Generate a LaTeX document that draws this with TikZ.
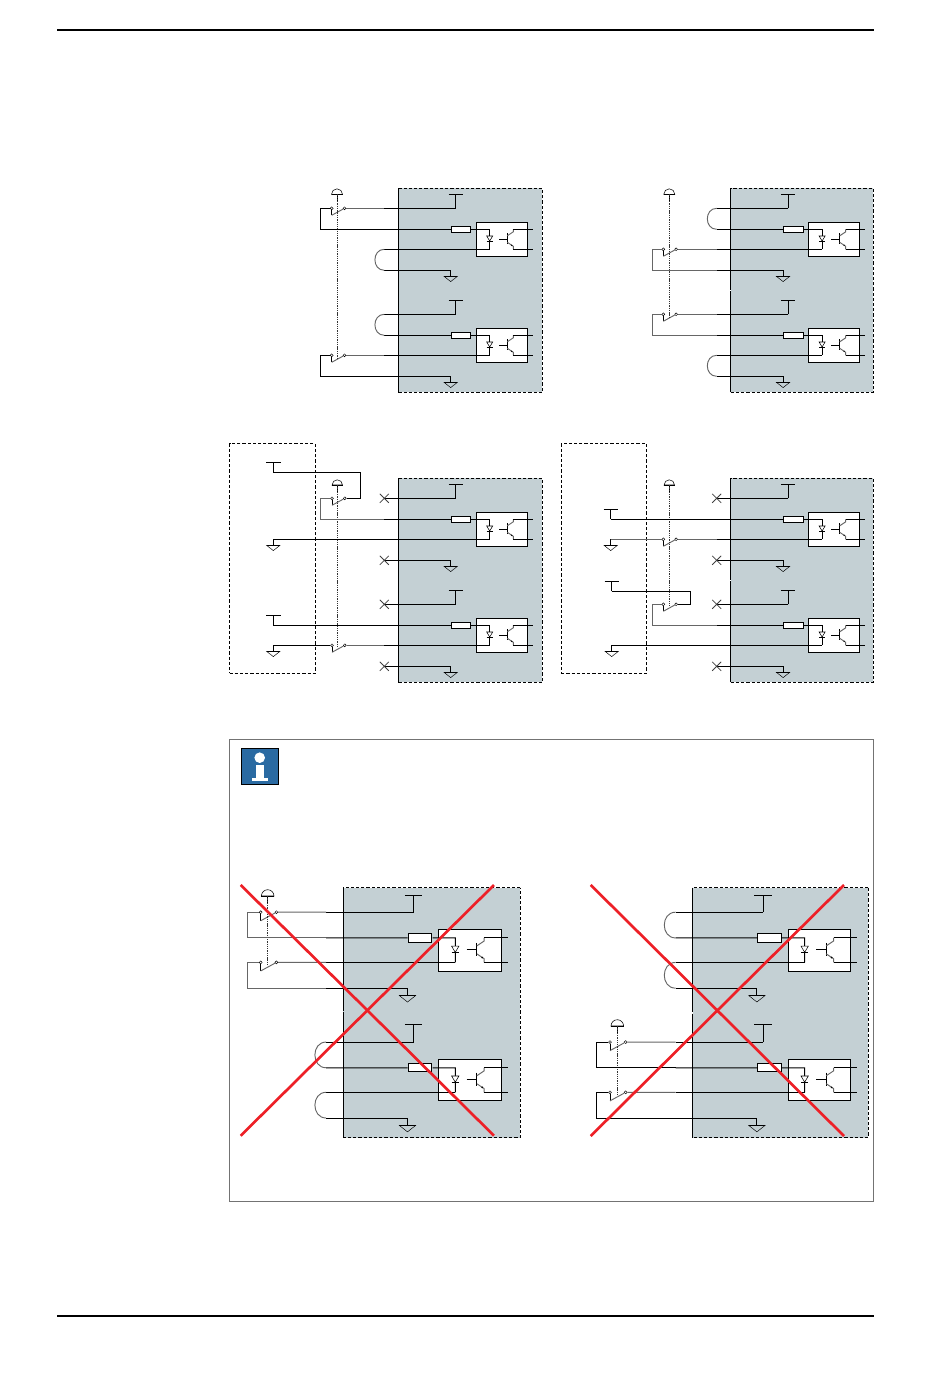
\documentclass[tikz,border=0pt]{standalone}
\usetikzlibrary{shapes.misc}
\definecolor{panelgray}{HTML}{C4D0D4}
\definecolor{noteblue}{HTML}{2A6AA2}
\definecolor{crossred}{HTML}{ED2027}
\tikzset{
    wire/.style={line width=0.7pt,black},
    stubwire/.style={line width=0.7pt,black!60},
    linkwire/.style={line width=0.55pt,black!80,dash pattern=on 1pt off 0.7pt},
    panelbox/.style={draw,line width=0.65pt,dash pattern=on 2.4pt off 1.5pt,fill=panelgray,inner sep=0pt,minimum height=153pt,transform shape},
    extbox/.style={draw,line width=0.55pt,dash pattern=on 2.4pt off 1.5pt,inner sep=0pt,minimum width=64.2pt,minimum height=172.2pt},
    optobox/.style={draw,line width=0.7pt,fill=white,inner sep=0pt,minimum width=38.25pt,minimum height=25.5pt,transform shape},
    resbox/.style={draw,line width=0.7pt,fill=white,inner sep=0pt,minimum width=14.5pt,minimum height=5pt,transform shape},
    swpin/.style={circle,draw,line width=0.35pt,fill=white,inner sep=0pt,minimum size=2.2pt},
    xpin/.style={cross out,draw,line width=0.55pt,black!75,inner sep=0pt,minimum size=6.2pt},
    redcross/.style={line width=2pt,crossred}
}
\newcommand{\gndsym}[3]{
    \coordinate (#1) at (#2,#3);
    \draw[wire] (#1) -- ++(0,6);
    \draw[line width=0.35pt] (#2-6.7,#3+6) -- ++(13.4,0) -- ++(-6.7,5.3) -- cycle;
    \draw[wire] (#2-6.7,#3+6) -- ++(13.4,0);
}
\newcommand{\vccsym}[4]{
    \coordinate (#1) at (#2,#3);
    \draw[wire] (#1) -- ++(0,-#4);
    \draw[wire] (#2-7.2,#3-#4) -- ++(14.4,0);
}
\newcommand{\iounit}[2]{
    \begin{scope}[shift={(0,#2)}]
        \vccsym{#1p}{57.4}{20}{14}
        \gndsym{#1g}{52.4}{82}
        \coordinate (#1ps) at (-14,20);
        \coordinate (#1rs) at (-14,41);
        \coordinate (#1cs) at (-14,61);
        \coordinate (#1gs) at (-14,82);
        \coordinate (#1d) at (91.4,41);
        \coordinate (#1c) at (91.4,61);
        \path (103.5,51) node[optobox] (#1box) {};
        \path (62.7,41) node[resbox] (#1res) {};
        \draw[wire] (#1ps) -- (#1p);
        \draw[wire] (#1rs) -- (#1res);
        \draw[wire] (#1res) -- (#1d) -- (#1c);
        \draw[wire] (#1cs) -- (#1c);
        \draw[wire] (#1gs) -- (#1g);
        \draw[line width=0.4pt,fill=white] (88.4,47.7) -- (94.4,47.7) -- (91.4,52.7) -- cycle;
        \draw[wire] (88.4,53) -- (94.4,53);
        \draw[wire] (100.7,50.7) -- (109,50.7);
        \draw[wire] (109,45) -- (109,56);
        \draw[stubwire] (109,47.5) -- (115,43.5) -- (115,41);
        \draw[stubwire] (109,54) -- (115,58) -- (115,61);
        \fill (113.4,57) circle (0.8);
        \draw[wire] (115,41) -- (134.4,41);
        \draw[wire] (115,61) -- (134.4,61);
    \end{scope}
}
\newcommand{\ioboard}[5]{
    \begin{scope}[shift={(#2,#3)},scale=#4]
        \path (#5/2,102) node[panelbox,minimum width=#5*0.75pt] (#1panel) {};
        \draw[wire] (0,0) -- (0,101) (0,103) -- (0,204);
        \iounit{#11}{0}
        \iounit{#12}{106}
    \end{scope}
}
\newcommand{\dswitch}[4]{
    \begin{scope}[shift={(#2,#3)},scale=#4]
        \path (0,0) node[swpin] (#1l) {};
        \path (12.8,0) node[swpin] (#1r) {};
        \coordinate (#1m) at (0,7);
        \draw[wire] (#1l) -- (#1m);
        \draw[stubwire] (#1m) -- (#1r);
    \end{scope}
}
\newcommand{\estop}[4]{
    \coordinate (#1) at (#2,#3);
    \draw[line width=0.4pt] (#2-#4,#3) arc[start angle=180,end angle=360,radius=#4] -- cycle;
    \draw[wire] (#2-#4,#3) -- (#2+#4,#3);
    \draw[wire] (#1) -- ++(0,8);
}
\newcommand{\loopwire}[3]{
    \draw[stubwire] (#1) .. controls +(-#3,0) and +(-#3,0) .. (#2);
}
\begin{document}
\begin{tikzpicture}[x=0.75pt,y=-0.75pt]
    \useasboundingbox (0,0) rectangle (950,1378);
    \draw[line width=1.1pt] (57,30) -- (873.5,30);
    \draw[line width=1.1pt] (57,1316) -- (873.5,1316);

    \ioboard{A}{398.3}{188.3}{1}{144}
    \estop{stopA}{337}{194.3}{5.5}
    \dswitch{sA1}{331.7}{208.3}{1}
    \dswitch{sA2}{331.7}{355.3}{1}
    \coordinate (endA) at (337,358);
    \draw[linkwire] (stopA) -- (endA);
    \draw[stubwire] (sA1r) -- (A1ps);
    \draw[wire] (sA1l) -- ++(-11.4,0) |- (A1rs);
    \draw[stubwire] (sA2r) -- (A2cs);
    \draw[wire] (sA2l) -- ++(-11.4,0) |- (A2gs);
    \loopwire{A1cs}{A1gs}{12.5}
    \loopwire{A2ps}{A2rs}{12.5}

    \ioboard{B}{730.7}{188.3}{1}{142.7}
    \estop{stopB}{669.3}{194.3}{5.5}
    \dswitch{sB1}{663.3}{249.3}{1}
    \dswitch{sB2}{663.3}{314.3}{1}
    \coordinate (endB) at (669.3,317);
    \draw[linkwire] (stopB) -- (endB);
    \draw[stubwire] (sB1r) -- (B1cs);
    \draw[stubwire] (sB1l) -- ++(-11,0) |- (B1gs);
    \draw[stubwire] (sB2r) -- (B2ps);
    \draw[stubwire] (sB2l) -- ++(-11,0) |- (B2rs);
    \loopwire{B1ps}{B1rs}{12.5}
    \loopwire{B2cs}{B2gs}{12.5}

    \path (272.3,558.5) node[extbox] (extC) {};
    \ioboard{C}{398.3}{478.3}{1}{144}
    \estop{stopC}{337.3}{485}{5.2}
    \dswitch{sC1}{332}{498.3}{1}
    \dswitch{sC2}{332}{645.3}{1}
    \coordinate (endC) at (337.3,648);
    \draw[linkwire] (stopC) -- (endC);
    \vccsym{vccC1}{273.3}{472.3}{10}
    \gndsym{gndC1}{273.3}{539.3}
    \vccsym{vccC2}{273.3}{625.3}{10}
    \gndsym{gndC2}{273.3}{645.3}
    \draw[wire] (vccC1) -- ++(87.4,0) |- (sC1r);
    \draw[stubwire] (sC1l) -- ++(-11.3,0) |- (C1rs);
    \draw[wire] (C1cs) -- (gndC1);
    \draw[wire] (C2rs) -- (vccC2);
    \draw[wire] (gndC2) -- (sC2l);
    \draw[stubwire] (sC2r) -- (C2cs);
    \path (C1ps) node[xpin] (xC1p) {};
    \path (C1gs) node[xpin] (xC1g) {};
    \path (C2ps) node[xpin] (xC2p) {};
    \path (C2gs) node[xpin] (xC2g) {};

    \path (604,558.5) node[extbox] (extD) {};
    \ioboard{D}{730.7}{478.3}{1}{142.7}
    \estop{stopD}{669.3}{485}{5.2}
    \dswitch{sD1}{663.3}{539.3}{1}
    \dswitch{sD2}{663.3}{604.3}{1}
    \coordinate (endD) at (669.3,607);
    \draw[linkwire] (stopD) -- (endD);
    \vccsym{vccD1}{610.7}{519.3}{10}
    \gndsym{gndD1}{610.7}{539.3}
    \vccsym{vccD2}{611.7}{591.3}{10}
    \gndsym{gndD2}{611.7}{645.3}
    \draw[wire] (D1rs) -- (vccD1);
    \draw[stubwire] (gndD1) -- (sD1l);
    \draw[stubwire] (sD1r) -- (D1cs);
    \draw[wire] (vccD2) -- ++(79,0) |- (sD2r);
    \draw[stubwire] (sD2l) -- ++(-11.3,0) |- (D2rs);
    \draw[wire] (D2cs) -- (gndD2);
    \path (D1ps) node[xpin] (xD1p) {};
    \path (D1gs) node[xpin] (xD1g) {};
    \path (D2ps) node[xpin] (xD2p) {};
    \path (D2gs) node[xpin] (xD2g) {};

    \draw[line width=0.7pt,black!55] (229.5,739) rectangle (873.5,1201);
    \draw[line width=0.7pt,fill=noteblue] (241.3,748.3) rectangle (278.7,784.7);
    \fill[white] (259.7,757.7) circle (5.3);
    \fill[white] (255.7,765) rectangle (264.3,777.7);
    \fill[white] (252.3,777.7) rectangle (267.7,780.7);

    \ioboard{E}{343.3}{887.7}{1.225}{144.5}
    \estop{stopE}{267.7}{896}{6.3}
    \dswitch{sE1}{260.7}{912.2}{1.225}
    \dswitch{sE2}{260.7}{962.4}{1.225}
    \coordinate (endE) at (267.7,966);
    \draw[linkwire] (stopE) -- (endE);
    \draw[stubwire] (sE1r) -- (E1ps);
    \draw[stubwire] (sE1l) -- ++(-13.4,0) |- (E1rs);
    \draw[stubwire] (sE2r) -- (E1cs);
    \draw[stubwire] (sE2l) -- ++(-13.4,0) |- (E1gs);
    \loopwire{E2ps}{E2rs}{15}
    \loopwire{E2cs}{E2gs}{15}
    \draw[redcross] (240.7,885) -- (494,1135.7);
    \draw[redcross] (240.7,1135.7) -- (494,885);

    \ioboard{F}{692.7}{887.7}{1.225}{143.4}
    \estop{stopF}{617.3}{1026}{6.3}
    \dswitch{sF1}{610}{1042.05}{1.225}
    \dswitch{sF2}{610}{1092.3}{1.225}
    \coordinate (endF) at (617.3,1095);
    \draw[linkwire] (stopF) -- (endF);
    \draw[stubwire] (sF1r) -- (F2ps);
    \draw[wire] (sF1l) -- ++(-13.7,0) |- (F2rs);
    \draw[stubwire] (sF2r) -- (F2cs);
    \draw[wire] (sF2l) -- ++(-13.7,0) |- (F2gs);
    \loopwire{F1ps}{F1rs}{15}
    \loopwire{F1cs}{F1gs}{15}
    \draw[redcross] (590.7,885) -- (844,1136);
    \draw[redcross] (590.7,1136) -- (844,885);
\end{tikzpicture}
\end{document}
